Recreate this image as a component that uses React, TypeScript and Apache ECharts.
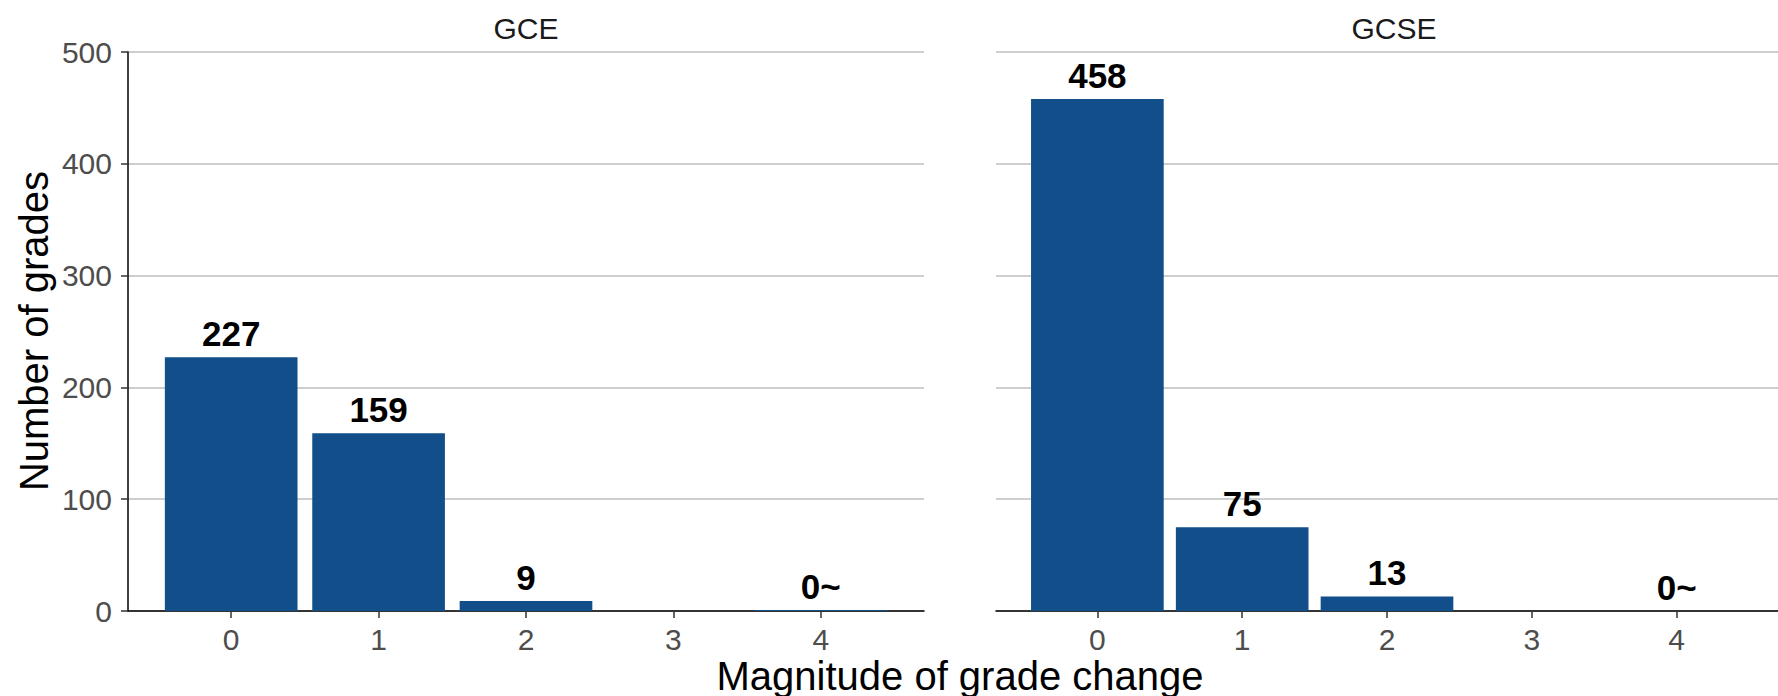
import React, { useEffect, useRef } from "react";
import * as echarts from "echarts";

const categories = [0, 1, 2, 3, 4];
const gceValues = [227, 159, 9, 0, 1];
const gcseValues = [458, 75, 13, 0, 0];
const gceLabels = ["227", "159", "9", "", "0~"];
const gcseLabels = ["458", "75", "13", "", "0~"];
const yTicks = { min: 0, max: 500, interval: 100 };
const panelTitles = ["GCE", "GCSE"];
const xTitle = "Magnitude of grade change";
const yTitle = "Number of grades";

const FONT = "'Liberation Sans', Arial, sans-serif";
const BAR = "#124f8a";
const GRID = "#bebebe";

export default function App() {
  const ref = useRef<HTMLDivElement>(null);
  useEffect(() => {
    if (!ref.current) return;
    const chart = echarts.init(ref.current, null, { renderer: "svg" });
    const panelW = 796;
    const unit = panelW / 5.4;
    const grids = [
      { left: 128, top: 52, width: panelW, height: 559 },
      { left: 996, top: 52, width: panelW, height: 559 },
    ];
    const mkX = (i: number) => ({
      type: "value",
      gridIndex: i,
      min: -0.7,
      max: 4.7,
      splitLine: { show: false },
      axisLine: { show: true, onZero: false, lineStyle: { color: "#000", width: 1.5 } },
      axisTick: { show: true, customValues: categories, length: 7, lineStyle: { color: "#333", width: 1.5 } },
      axisLabel: {
        show: true,
        customValues: categories,
        fontSize: 30,
        color: "#4d4d4d",
        fontFamily: FONT,
        margin: 13,
      },
    });
    const mkY = (i: number) => ({
      type: "value",
      gridIndex: i,
      min: yTicks.min,
      max: yTicks.max,
      interval: yTicks.interval,
      splitLine: { show: true, lineStyle: { color: GRID, width: 1.5 } },
      axisLine: { show: i === 0, onZero: false, lineStyle: { color: "#000", width: 1.5 } },
      axisTick: { show: i === 0, length: 7, lineStyle: { color: "#333", width: 1.5 } },
      axisLabel: {
        show: i === 0,
        fontSize: 30,
        color: "#4d4d4d",
        fontFamily: FONT,
        margin: 16,
      },
    });
    const mkSeries = (i: number, vals: number[], labels: string[]) => ({
      type: "bar",
      xAxisIndex: i,
      yAxisIndex: i,
      data: categories.map((c, k) => [c, vals[k]]),
      barWidth: unit * 0.9,
      itemStyle: { color: BAR },
      label: {
        show: true,
        position: "top",
        distance: 6,
        fontSize: 35,
        fontWeight: "bold",
        color: "#000",
        fontFamily: FONT,
        formatter: (p: any) => labels[p.dataIndex],
      },
    });
    chart.setOption({
      animation: false,
      grid: grids,
      xAxis: [mkX(0), mkX(1)],
      yAxis: [mkY(0), mkY(1)],
      series: [mkSeries(0, gceValues, gceLabels), mkSeries(1, gcseValues, gcseLabels)],
      graphic: [
        {
          type: "text",
          x: 128 + panelW / 2,
          y: 28,
          style: { text: panelTitles[0], font: `30px ${FONT}`, fill: "#1a1a1a", align: "center", verticalAlign: "middle" },
        },
        {
          type: "text",
          x: 996 + panelW / 2,
          y: 28,
          style: { text: panelTitles[1], font: `30px ${FONT}`, fill: "#1a1a1a", align: "center", verticalAlign: "middle" },
        },
        {
          type: "text",
          x: 34,
          y: 331,
          rotation: Math.PI / 2,
          style: { text: yTitle, font: `40px ${FONT}`, fill: "#000", align: "center", verticalAlign: "middle" },
        },
        {
          type: "text",
          x: 960,
          y: 676,
          style: { text: xTitle, font: `40px ${FONT}`, fill: "#000", align: "center", verticalAlign: "middle" },
        },
      ],
    });
    return () => chart.dispose();
  }, []);
  return (
    <div
      ref={ref}
      style={{ position: "fixed", left: 0, top: 0, width: 1778, height: 696, background: "#fff" }}
    />
  );
}
